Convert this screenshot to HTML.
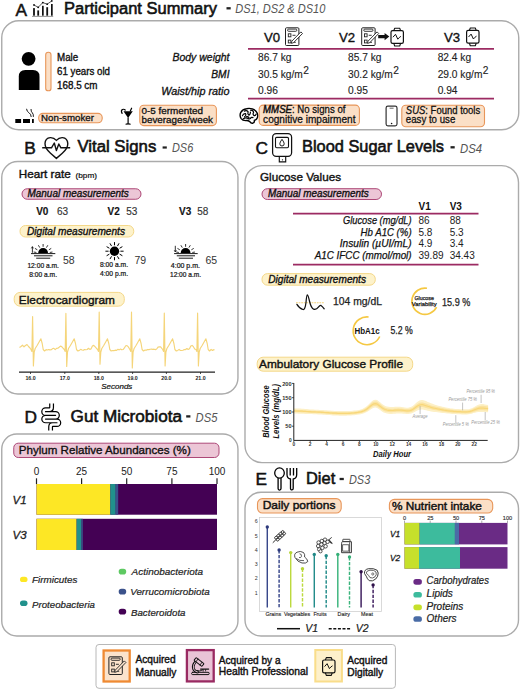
<!DOCTYPE html>
<html>
<head>
<meta charset="utf-8">
<style>
html,body{margin:0;padding:0;background:#fff;}
body{width:520px;height:689px;overflow:hidden;}
svg{display:block;font-family:"Liberation Sans",sans-serif;}
.b{font-weight:bold;}
.i{font-style:italic;}
.t{font-size:17.3px;fill:#111;stroke:#111;stroke-width:0.6px;}
.ds{font-style:italic;font-size:12px;fill:#555;}
.box{fill:none;stroke:#ababab;stroke-width:1.4;}
.pl{stroke:#9c2b62;stroke-width:1.6;}
.po{fill:#fbdfc6;stroke:#e8965a;stroke-width:1.1;}
.pp{fill:#ecc6d6;stroke:#ad4877;stroke-width:1;}
.py{fill:#fdf2cb;stroke:#f4d889;stroke-width:1;}
.m{stroke-width:0.3px;}
.ic{fill:none;stroke:#111;stroke-width:1.2;stroke-linecap:round;stroke-linejoin:round;}
</style>
</head>
<body>
<svg width="520" height="689" viewBox="0 0 520 689">
<!-- ============ SECTION A ============ -->
<text x="15.6" y="15.6" class="t" style="font-size:17.3px;stroke-width:0.5px">A</text>
<!-- bar chart icon -->
<g fill="#111">
<rect x="33.1" y="8.1" width="1.8" height="7.6"/>
<rect x="37.3" y="10.4" width="1.8" height="5.3"/>
<rect x="42" y="5.8" width="1.7" height="9.9"/>
<rect x="46.3" y="7.2" width="1.8" height="8.5"/>
<rect x="51" y="4" width="1.7" height="11.7"/>
<circle cx="34" cy="5" r="0.9"/><circle cx="38.2" cy="7.3" r="0.9"/><circle cx="42.8" cy="2.6" r="0.9"/><circle cx="47.2" cy="4.2" r="0.9"/><circle cx="51.8" cy="0.9" r="0.9"/>
</g>
<polyline points="34,5 38.2,7.3 42.8,2.6 47.2,4.2 51.8,0.9" fill="none" stroke="#111" stroke-width="0.7"/>
<line x1="32" y1="16.4" x2="53.2" y2="16.4" stroke="#777" stroke-width="0.8"/>
<text x="64" y="13.8" class="t" textLength="153" lengthAdjust="spacingAndGlyphs">Participant Summary</text>
<rect x="226.5" y="7.15" width="4.2" height="2.3" fill="#222"/>
<text x="235.3" y="13.2" class="ds" textLength="90" lengthAdjust="spacingAndGlyphs">DS1, DS2 &amp; DS10</text>

<rect x="1.75" y="20.75" width="517" height="109" rx="17" class="box"/>

<!-- person -->
<circle cx="28.6" cy="58.8" r="6.9" fill="#000"/>
<path d="M18.8,90 V76.5 Q18.8,70 25.3,70 H33 Q39.5,70 39.5,76.5 V90 Z" fill="#000"/>
<rect x="45.7" y="52.2" width="5.3" height="38.6" rx="2.65" class="po"/>
<g class="m" style="font-size:10px;stroke-width:0.35px" fill="#111" stroke="#111">
<text x="57" y="60.5" textLength="21.2" lengthAdjust="spacingAndGlyphs">Male</text>
<text x="57" y="75" textLength="53" lengthAdjust="spacingAndGlyphs">61 years old</text>
<text x="57" y="89.3" textLength="40.5" lengthAdjust="spacingAndGlyphs">168.5 cm</text>
</g>
<!-- labels -->
<g class="m i" style="font-size:10.4px" fill="#111" stroke="#111" text-anchor="end">
<text x="229.5" y="61" textLength="57" lengthAdjust="spacingAndGlyphs">Body weight</text>
<text x="229.5" y="77.9" textLength="18.2" lengthAdjust="spacingAndGlyphs">BMI</text>
<text x="229.5" y="94.7" textLength="68.3" lengthAdjust="spacingAndGlyphs">Waist/hip ratio</text>
</g>
<!-- table lines -->
<line x1="248" y1="48.9" x2="494" y2="48.9" class="pl"/>
<line x1="248" y1="98.6" x2="494" y2="98.6" class="pl"/>
<!-- headers -->
<g class="m" style="font-size:13.2px;stroke-width:0.35px" fill="#111" stroke="#111">
<text x="264" y="42">V0</text>
<text x="339" y="42">V2</text>
<text x="444" y="42">V3</text>
</g>
<!-- values -->
<g style="font-size:10.2px;stroke-width:0.12px" fill="#222" stroke="#222">
<text x="258" y="61">86.7 kg</text>
<text x="258" y="77.7">30.5 kg/m<tspan dx="0.4" dy="-4" style="font-size:10.2px">2</tspan></text>
<text x="258" y="94.4">0.96</text>
<text x="348" y="61">85.7 kg</text>
<text x="348" y="77.7">30.2 kg/m<tspan dx="0.4" dy="-4" style="font-size:10.2px">2</tspan></text>
<text x="348" y="94.4">0.95</text>
<text x="437.7" y="61">82.4 kg</text>
<text x="437.7" y="77.7">29.0 kg/m<tspan dx="0.4" dy="-4" style="font-size:10.2px">2</tspan></text>
<text x="437.7" y="94.4">0.94</text>
</g>
<!-- clipboard icon defs -->
<defs>
<g id="clip">
<rect x="0.5" y="0.5" width="13.4" height="17.7" rx="1" style="fill:var(--bg,#fff)" stroke="#222" stroke-width="1"/>
<rect x="2.6" y="1.8" width="9.2" height="2.2" rx="1" fill="none" stroke="#222" stroke-width="0.9"/>
<rect x="3.3" y="6.5" width="2.6" height="3" fill="none" stroke="#222" stroke-width="0.9"/>
<rect x="3.3" y="12.8" width="2.6" height="2.8" fill="none" stroke="#222" stroke-width="0.9"/>
<line x1="7.5" y1="8" x2="10.5" y2="8" stroke="#222" stroke-width="0.9"/>
<line x1="8" y1="15" x2="10.8" y2="15" stroke="#222" stroke-width="0.9"/>
<path d="M6.8,13.9 L15.9,4.6 L17.5,6.2 L8.4,15.5 L6.3,16 Z" style="fill:var(--bg,#fff)" stroke="#222" stroke-width="0.9" stroke-linejoin="round"/>
</g>
<g id="watch">
<path d="M3.4,3 L4.3,0.6 H9.3 L10.2,3 M3.4,15.8 L4.3,18.4 H9.3 L10.2,15.8" fill="none" stroke="#111" stroke-width="1.1" stroke-linejoin="round"/>
<rect x="0.6" y="3" width="12.4" height="12.8" rx="1.6" fill="none" stroke="#111" stroke-width="1.2"/>
<polyline points="2.8,9.3 5.1,6.7 7.4,11.6 8.8,10 10.2,9" fill="none" stroke="#111" stroke-width="1" stroke-linejoin="round" stroke-linecap="round"/>
</g>
</defs>
<use href="#clip" x="285" y="27.3"/>
<use href="#clip" x="361.2" y="27.3"/>
<path d="M378.2,34.9 H384.6 V32.9 L389.3,36.6 L384.6,40.3 V38.3 H378.2 Z" fill="#111"/>
<use href="#watch" x="390.4" y="27.6"/>
<use href="#watch" x="466" y="27.4"/>
<!-- bottom row icons -->
<!-- cigarette -->
<g fill="#000">
<rect x="15.3" y="119" width="5.8" height="4"/>
<rect x="23" y="119" width="7" height="4"/>
<rect x="32" y="119" width="1.8" height="4"/>
</g>
<path d="M26.6,109.2 Q26.8,111.5 28.8,112.6 Q31,113.8 31.2,116.6 M31,109.4 Q30.9,111.6 32.3,112.8 Q33.6,114 33.4,116.5" fill="none" stroke="#000" stroke-width="0.9" stroke-linecap="round"/>
<rect x="38.7" y="113.4" width="63.5" height="9.4" rx="4.2" class="po"/>
<text x="41.1" y="121.4" class="m" style="font-size:9.7px" fill="#111" stroke="#111" textLength="52.8" lengthAdjust="spacingAndGlyphs">Non-smoker</text>
<!-- cocktail -->
<path d="M123.5,111.2 H132.8 L128.1,117.9 Z" fill="#000"/>
<rect x="127.5" y="117.5" width="1.2" height="6" fill="#000"/>
<path d="M125.6,124.2 Q128.1,122.6 130.6,124.2 Z" fill="#000" stroke="#000" stroke-width="0.6"/>
<path d="M122.1,113.4 Q120.6,110.6 122.4,109.5 Q124,108.8 125.2,110" fill="none" stroke="#000" stroke-width="1.2" stroke-linecap="round"/>
<path d="M130.3,111 L131.6,108.2" stroke="#000" stroke-width="1.2" stroke-linecap="round"/>
<rect x="139.8" y="105.2" width="76.6" height="20.4" rx="4" class="po"/>
<g class="m" style="font-size:9.8px" fill="#111" stroke="#111">
<text x="141.5" y="113.8" textLength="61.6" lengthAdjust="spacingAndGlyphs">0-5 fermented</text>
<text x="141.5" y="122.8" textLength="71.5" lengthAdjust="spacingAndGlyphs">beverages/week</text>
</g>
<!-- brain -->
<path d="M241.2,118.6 Q239.2,115.5 240.8,112.4 Q242.6,109.2 246.5,108.7 Q249.5,108 252.3,108.9 Q256.2,110.2 257.4,113.6 Q258.4,116.8 256.6,119 Q255.6,120.3 254.3,120.2 Q254.8,122.6 252.8,123.2 Q251,123.6 249.8,121.6 Q248.2,120.4 245.6,120.6 Q242.6,120.6 241.2,118.6 Z" fill="#fff" stroke="#000" stroke-width="1.4" stroke-linejoin="round"/>
<path d="M242.4,115.8 Q243.2,113.2 245.6,113.6 Q246.4,115.6 244.6,116.8 M244.3,111.1 Q246.8,110 248.2,111.9 Q247.2,113.8 249,115.2 Q250.6,114 250.4,112 M250.5,110.2 Q253.3,110 253.6,112.6 Q252.2,114.2 254.2,115.8 Q255.8,115.6 256.2,114 M243.4,118.8 Q245.2,117.2 247.3,118.2 Q248.4,119.4 250.4,118.4 Q251.2,116.8 253,117.6 M246.6,116.6 Q248.2,116.4 249,117.6" fill="none" stroke="#000" stroke-width="1.15" stroke-linecap="round" stroke-linejoin="round"/>
<rect x="259.2" y="105.1" width="100.2" height="20.3" rx="4" class="po"/>
<g class="m" style="font-size:10.4px;stroke-width:0.28px" fill="#111" stroke="#111">
<text x="263.1" y="113.4" textLength="82.4" lengthAdjust="spacingAndGlyphs"><tspan class="i" style="stroke-width:0.45px">MMSE</tspan>: No signs of</text>
<text x="263.1" y="123.1" textLength="92.4" lengthAdjust="spacingAndGlyphs">cognitive impairment</text>
</g>
<!-- phone -->
<rect x="386.1" y="106.1" width="10.9" height="19.8" rx="1.8" fill="none" stroke="#333" stroke-width="1.2"/>
<line x1="389.6" y1="108.2" x2="393.6" y2="108.2" stroke="#555" stroke-width="0.9"/>
<circle cx="391.6" cy="123.5" r="0.8" fill="#111"/>
<rect x="401.8" y="105.2" width="82.7" height="21.6" rx="4" class="po"/>
<g class="m" style="font-size:10.4px;stroke-width:0.28px" fill="#111" stroke="#111">
<text x="405.8" y="113.8" textLength="74.4" lengthAdjust="spacingAndGlyphs"><tspan class="i">SUS</tspan>: Found tools</text>
<text x="405.8" y="123.4" textLength="49.5" lengthAdjust="spacingAndGlyphs">easy to use</text>
</g>

<!-- ============ SECTION B ============ -->
<text x="24.3" y="153.7" class="t" style="font-size:17.3px;stroke-width:0.5px">B</text>
<path d="M56.4,140.4 Q53.8,137.4 50.3,137.6 Q45.2,138 45,143.6 Q45,148.5 50.5,153.3 L56.4,158.4 L62.3,153.3 Q67.9,148.5 67.8,143.6 Q67.5,138 62.5,137.6 Q59,137.4 56.4,140.4 Z" fill="none" stroke="#111" stroke-width="1.4" stroke-linejoin="round"/>
<polyline points="42.2,147.8 51.5,147.8 54.3,143 56.4,150.6 58.8,144 60.9,147.8 70.2,147.8" fill="none" stroke="#111" stroke-width="1.4" stroke-linejoin="round"/>
<text x="77.4" y="152.4" class="t" textLength="78.9" lengthAdjust="spacingAndGlyphs">Vital Signs</text>
<rect x="162.6" y="146.4" width="4.2" height="2.2" fill="#222"/>
<text x="172" y="152.3" class="ds" textLength="21.2" lengthAdjust="spacingAndGlyphs">DS6</text>

<rect x="1.75" y="161.5" width="236.2" height="232.5" rx="16" class="box"/>

<text x="18.75" y="177.5" class="m" style="font-size:11.6px;stroke-width:0.4px" fill="#111" stroke="#111" textLength="52" lengthAdjust="spacingAndGlyphs">Heart rate</text>
<text x="75.5" y="177.5" style="font-size:7.8px;stroke-width:0.2px" stroke="#111" fill="#111" textLength="21.5" lengthAdjust="spacingAndGlyphs">(bpm)</text>
<rect x="22" y="188.75" width="119" height="10.5" rx="5.25" class="pp"/>
<text x="27.5" y="196.8" class="i m" style="font-size:10px;stroke-width:0.35px" fill="#111" stroke="#111" textLength="101.25" lengthAdjust="spacingAndGlyphs">Manual measurements</text>
<g style="font-size:10px;stroke-width:0.15px" stroke="#333">
<text x="36.2" y="215" class="b" fill="#111">V0</text><text x="57" y="215" fill="#333">63</text>
<text x="107.5" y="215" class="b" fill="#111">V2</text><text x="126.2" y="215" fill="#333">53</text>
<text x="179" y="215.3" class="b" fill="#111">V3</text><text x="197.2" y="215.3" fill="#333">58</text>
</g>
<rect x="20" y="225.5" width="113.75" height="11.5" rx="5.5" class="py"/>
<text x="27" y="234.5" class="i m" style="font-size:10px;stroke-width:0.35px" fill="#111" stroke="#111" textLength="98" lengthAdjust="spacingAndGlyphs">Digital measurements</text>
<!-- sunrise -->
<g>
<path d="M38.2,253 A4.9,4.9 0 0 1 48,253 Z" fill="#000"/>
<line x1="31" y1="253.6" x2="55.3" y2="253.6" stroke="#000" stroke-width="0.9"/>
<line x1="34" y1="255.8" x2="52.5" y2="255.8" stroke="#000" stroke-width="0.9"/>
<line x1="36.2" y1="258.2" x2="50.2" y2="258.2" stroke="#000" stroke-width="0.9"/>
<g stroke="#000" stroke-width="0.8" stroke-linecap="round">
<line x1="43.1" y1="246.4" x2="43.1" y2="244.4"/>
<line x1="46.6" y1="247.3" x2="47.6" y2="245.6"/>
<line x1="49.2" y1="249.6" x2="50.9" y2="248.6"/>
<line x1="50.2" y1="252.4" x2="52.1" y2="252.1"/>
<line x1="39.6" y1="247.3" x2="38.6" y2="245.6"/>
<line x1="37" y1="249.6" x2="35.3" y2="248.6"/>
<line x1="36" y1="252.4" x2="34.1" y2="252.1"/>
<line x1="32.4" y1="252.4" x2="32.4" y2="247.2"/>
</g>
<path d="M31.3,248.4 L32.4,246.6 L33.5,248.4" fill="none" stroke="#000" stroke-width="0.7"/>
</g>
<!-- sun -->
<g>
<circle cx="114.5" cy="251.2" r="4.7" fill="#000"/>
<g stroke="#000" stroke-width="1" stroke-linecap="round">
<line x1="114.5" y1="244.9" x2="114.5" y2="242.5"/>
<line x1="114.5" y1="257.5" x2="114.5" y2="259.9"/>
<line x1="108.2" y1="251.2" x2="105.8" y2="251.2"/>
<line x1="120.8" y1="251.2" x2="123.2" y2="251.2"/>
<line x1="117.65" y1="245.75" x2="118.85" y2="243.66"/>
<line x1="111.35" y1="245.75" x2="110.15" y2="243.66"/>
<line x1="117.65" y1="256.65" x2="118.85" y2="258.74"/>
<line x1="111.35" y1="256.65" x2="110.15" y2="258.74"/>
<line x1="119.96" y1="248.05" x2="122.04" y2="246.85"/>
<line x1="109.04" y1="248.05" x2="106.96" y2="246.85"/>
<line x1="119.96" y1="254.35" x2="122.04" y2="255.55"/>
<line x1="109.04" y1="254.35" x2="106.96" y2="255.55"/>
</g>
</g>
<!-- sunset -->
<g>
<path d="M180.7,253 A4.9,4.9 0 0 1 190.5,253 Z" fill="#000"/>
<line x1="174.1" y1="253.6" x2="197.7" y2="253.6" stroke="#000" stroke-width="0.9"/>
<line x1="176.8" y1="255.8" x2="195" y2="255.8" stroke="#000" stroke-width="0.9"/>
<line x1="178.8" y1="258.2" x2="193" y2="258.2" stroke="#000" stroke-width="0.9"/>
<g stroke="#000" stroke-width="0.8" stroke-linecap="round">
<line x1="185.6" y1="246.4" x2="185.6" y2="244.4"/>
<line x1="189.1" y1="247.3" x2="190.1" y2="245.6"/>
<line x1="191.7" y1="249.6" x2="193.4" y2="248.6"/>
<line x1="192.7" y1="252.4" x2="194.6" y2="252.1"/>
<line x1="182.1" y1="247.3" x2="181.1" y2="245.6"/>
<line x1="179.5" y1="249.6" x2="177.8" y2="248.6"/>
<line x1="178.5" y1="252.4" x2="176.6" y2="252.1"/>
<line x1="175.3" y1="246.2" x2="175.3" y2="251.4"/>
</g>
<path d="M174.2,250.2 L175.3,252 L176.4,250.2" fill="none" stroke="#000" stroke-width="0.7"/>
</g>
<g class="m" style="font-size:6.8px;stroke-width:0.2px" fill="#111" stroke="#111">
<text x="27.4" y="267.9" textLength="31.6" lengthAdjust="spacingAndGlyphs">12:00 a.m.</text>
<text x="29.2" y="277" textLength="27.8" lengthAdjust="spacingAndGlyphs">8:00 a.m.</text>
<text x="100" y="267.3" textLength="28" lengthAdjust="spacingAndGlyphs">8:00 a.m.</text>
<text x="100" y="276.4" textLength="28" lengthAdjust="spacingAndGlyphs">4:00 p.m.</text>
<text x="170.8" y="267.6" textLength="29.2" lengthAdjust="spacingAndGlyphs">4:00 p.m.</text>
<text x="170" y="277" textLength="31" lengthAdjust="spacingAndGlyphs">12:00 a.m.</text>
</g>
<g style="font-size:10.5px" fill="#333">
<text x="63" y="263.8">58</text>
<text x="134.4" y="263.6">79</text>
<text x="205.5" y="263.8">65</text>
</g>
<rect x="14.2" y="292.4" width="110.1" height="13.8" rx="6" class="py"/>
<text x="18.8" y="303.5" class="m" style="font-size:11.8px;stroke-width:0.4px" fill="#111" stroke="#111" textLength="96.2" lengthAdjust="spacingAndGlyphs">Electrocardiogram</text>
<!-- ECG -->
<polyline id="ecg" points="19.5,347.5 21,346.5 22.5,345.2 24,346.8 25.5,345.5 27,344.5 28.5,346.5 30,348 31.0,349.5 31.9,351.5 32.6,316.5 33.4,366 34.2,352 35.2,348.5 37.1,345.5 39.1,342 40.9,338.8 42.2,343.5 43.2,349.5 44.6,351 46.1,349.65 47.4,350.04 48.7,349.57 50.0,349.84 51.3,349.72 52.6,348.56 53.9,348.31 55.2,349.64 56.5,348.44 57.8,348.24 59.1,347.25 60.4,346.15 61.7,346.65 63.0,348.05 64.3,349.5 65.2,351.5 65.9,313.4 66.7,366.5 67.5,352 68.5,348.5 70.4,345.5 72.4,342 74.2,338.8 75.5,343.5 76.5,349.5 77.9,351 79.4,350.37 80.7,349.34 82.0,350.05 83.3,350.31 84.6,349.54 85.9,349.77 87.2,349.49 88.5,348.24 89.8,349.34 91.1,348.88 92.4,346.0 93.7,345.36 95.0,346.71 96.3,348.04 97.6,349.5 98.5,351.5 99.2,312 100.0,364.2 100.8,352 101.8,348.5 103.7,345.5 105.7,342 107.5,338.8 108.8,343.5 109.8,349.5 111.2,351 112.7,350.51 114.0,350.65 115.3,350.19 116.6,350.41 117.9,349.31 119.2,349.88 120.5,349.08 121.8,349.81 123.1,349.55 124.4,347.99 125.7,345.7 127.0,345.69 128.3,346.89 129.9,349.5 130.8,351.5 131.5,312 132.3,368 133.1,352 134.1,348.5 136.0,345.5 138.0,342 139.8,338.8 141.1,343.5 142.1,349.5 143.5,351 145.0,350.01 146.3,350.19 147.6,349.45 148.9,349.67 150.2,349.29 151.5,349.07 152.8,349.34 154.1,349.18 155.4,349.6 156.7,349.04 158.0,347.13 159.3,346.85 160.6,346.93 162.7,349.5 163.6,351.5 164.3,313 165.1,366 165.9,352 166.9,348.5 168.8,345.5 170.8,342 172.6,338.8 173.9,343.5 174.9,349.5 176.3,351 177.8,350.43 179.1,349.36 180.4,350.46 181.7,350.49 183.0,350.22 184.3,349.46 185.6,349.57 186.9,348.51 188.2,349.47 189.5,348.85 190.8,345.97 192.1,345.42 193.4,346.69 194.7,348.97 196.0,349.5 196.9,351.5 197.6,313 198.4,366 199.2,352 200.2,348.5 202.1,345.5 204.1,342 205.9,338.8 207.2,343.5 208.2,349.5 209.6,351 211.1,349.38 212.4,350.51 213.7,349.65 214.5,350" fill="none" stroke="#f5d57a" stroke-width="1.15" stroke-linejoin="round"/>
<line x1="19" y1="372.2" x2="215" y2="372.2" stroke="#222" stroke-width="1.2"/>
<g stroke="#222" stroke-width="0.8">
<line x1="30.5" y1="372" x2="30.5" y2="374"/><line x1="64.8" y1="372" x2="64.8" y2="374"/><line x1="98.8" y1="372" x2="98.8" y2="374"/><line x1="132.6" y1="372" x2="132.6" y2="374"/><line x1="166.4" y1="372" x2="166.4" y2="374"/><line x1="200.5" y1="372" x2="200.5" y2="374"/>
</g>
<g class="b" style="font-size:4.8px" fill="#222" text-anchor="middle">
<text x="30.5" y="379.5" textLength="10.2" lengthAdjust="spacingAndGlyphs">16.0</text><text x="64.8" y="379.5" textLength="10.2" lengthAdjust="spacingAndGlyphs">17.0</text><text x="98.8" y="379.5" textLength="10.2" lengthAdjust="spacingAndGlyphs">18.0</text><text x="132.6" y="379.5" textLength="10.2" lengthAdjust="spacingAndGlyphs">19.0</text><text x="166.4" y="379.5" textLength="10.2" lengthAdjust="spacingAndGlyphs">20.0</text><text x="200.5" y="379.5" textLength="10.2" lengthAdjust="spacingAndGlyphs">21.0</text>
</g>
<text x="101.3" y="388.5" class="i m" style="font-size:7.8px;stroke-width:0.2px" fill="#111" stroke="#111" textLength="31" lengthAdjust="spacingAndGlyphs">Seconds</text>

<!-- ============ SECTION C ============ -->
<text x="255.6" y="153.5" class="t" style="font-size:17.3px;stroke-width:0.5px">C</text>
<!-- glucometer -->
<rect x="272.6" y="133.7" width="19" height="22.6" rx="3.6" fill="none" stroke="#111" stroke-width="1.25"/>
<rect x="275.5" y="137.4" width="13" height="10.4" rx="1.2" fill="none" stroke="#111" stroke-width="1.1"/>
<path d="M282,139.3 Q279.8,142.3 279.8,143.8 A2.2,2.2 0 0 0 284.2,143.8 Q284.2,142.3 282,139.3 Z" fill="none" stroke="#111" stroke-width="0.95"/>
<path d="M279.3,156.3 V161.9 H285.7 V156.3" fill="none" stroke="#111" stroke-width="1.15"/>
<circle cx="282.5" cy="159.8" r="0.65" fill="#111"/>
<text x="302" y="152.4" class="t" textLength="142" lengthAdjust="spacingAndGlyphs">Blood Sugar Levels</text>
<rect x="450.5" y="146.15" width="4.2" height="2.3" fill="#222"/>
<text x="460" y="152.5" class="ds" textLength="22" lengthAdjust="spacingAndGlyphs">DS4</text>

<rect x="245" y="165.6" width="273.5" height="297" rx="17" class="box"/>

<text x="260" y="180.6" class="m" style="font-size:11.6px;stroke-width:0.4px" fill="#111" stroke="#111" textLength="81" lengthAdjust="spacingAndGlyphs">Glucose Values</text>
<rect x="262" y="188.7" width="119.5" height="10.8" rx="5.4" class="pp"/>
<text x="268" y="196.7" class="i m" style="font-size:10px;stroke-width:0.35px" fill="#111" stroke="#111" textLength="100.6" lengthAdjust="spacingAndGlyphs">Manual measurements</text>
<g class="b" style="font-size:10px" fill="#111">
<text x="418.5" y="210.3">V1</text>
<text x="449.7" y="210.3">V3</text>
</g>
<line x1="293" y1="213.6" x2="478.5" y2="213.6" class="pl"/>
<line x1="293" y1="264.6" x2="478.5" y2="264.6" class="pl"/>
<g class="i m" style="font-size:10.2px;stroke-width:0.25px" fill="#111" stroke="#111" text-anchor="end">
<text x="411.6" y="223.8" textLength="68.6" lengthAdjust="spacingAndGlyphs">Glucose (mg/dL)</text>
<text x="411.6" y="235.6" textLength="51" lengthAdjust="spacingAndGlyphs">Hb A1C (%)</text>
<text x="411.6" y="247.2" textLength="71.8" lengthAdjust="spacingAndGlyphs">Insulin (µUI/mL)</text>
<text x="411.6" y="259.3" textLength="96.9" lengthAdjust="spacingAndGlyphs">A1C IFCC (mmol/mol)</text>
</g>
<g style="font-size:10px" fill="#222">
<text x="418.5" y="223.8">86</text><text x="449.7" y="223.8">88</text>
<text x="418.5" y="235.6">5.8</text><text x="449.7" y="235.6">5.3</text>
<text x="418.5" y="247.2">4.9</text><text x="449.7" y="247.2">3.4</text>
<text x="418.5" y="259.3">39.89</text><text x="449.7" y="259.3">34.43</text>
</g>
<rect x="262" y="273.6" width="113.3" height="11.6" rx="5.5" class="py"/>
<text x="268.3" y="282.8" class="i m" style="font-size:10px;stroke-width:0.35px" fill="#111" stroke="#111" textLength="97.7" lengthAdjust="spacingAndGlyphs">Digital measurements</text>
<!-- glucose wave icon -->
<line x1="296" y1="302.7" x2="324.2" y2="302.7" stroke="#f3d27a" stroke-width="1.1" stroke-dasharray="1.8,0.8"/>
<path d="M296.9,304.4 Q299.5,308.6 303,309.5 Q305.1,309.8 306,302.5 Q306.6,295 307.3,294.9 Q308.1,295 309.6,301.5 Q311.1,307.9 313.6,309.2 Q316.4,310 318.4,307.2 Q319.9,305 321,305.4 Q322.5,306.4 324.2,308.8" fill="none" stroke="#111" stroke-width="1.25" stroke-linejoin="round" stroke-linecap="round"/>
<text x="333" y="305.4" style="font-size:10.2px;stroke-width:0.25px" fill="#222" stroke="#222" textLength="49" lengthAdjust="spacingAndGlyphs">104 mg/dL</text>
<!-- GV circle -->
<path d="M427,288.3 A13.1,13.1 0 1 0 436.6,307.2" fill="none" stroke="#f5c842" stroke-width="1.6"/>
<g class="m" style="font-size:6.1px;stroke-width:0.25px" fill="#111" stroke="#111" text-anchor="middle">
<text x="424.2" y="300.1" textLength="19.5" lengthAdjust="spacingAndGlyphs">Glucose</text>
<text x="424.2" y="306.4" textLength="24.9" lengthAdjust="spacingAndGlyphs">Variability</text>
</g>
<text x="442" y="305.9" style="font-size:10.2px;stroke-width:0.25px" fill="#222" stroke="#222" textLength="28.3" lengthAdjust="spacingAndGlyphs">15.9 %</text>
<!-- HbA1c circle -->
<path d="M368.6,317 A13.9,13.9 0 1 0 379.7,336.5" fill="none" stroke="#f5c842" stroke-width="1.6"/>
<text x="367" y="333.9" class="b" style="font-size:8.2px" fill="#111" text-anchor="middle" textLength="25.2" lengthAdjust="spacingAndGlyphs">HbA1c</text>
<text x="390.5" y="334.4" style="font-size:10.2px;stroke-width:0.25px" fill="#222" stroke="#222" textLength="22.3" lengthAdjust="spacingAndGlyphs">5.2 %</text>
<!-- AGP -->
<rect x="257.2" y="357.2" width="155.5" height="14" rx="6" class="py"/>
<text x="259" y="368.1" class="m" style="font-size:11.8px;stroke-width:0.4px" fill="#111" stroke="#111" textLength="144" lengthAdjust="spacingAndGlyphs">Ambulatory Glucose Profile</text>
<g id="agp">
<path d="M293.8,408.4 L295.4,408.4 L297.1,408.5 L298.7,408.5 L300.3,408.6 L302.0,408.7 L303.6,408.8 L305.2,409.0 L306.9,409.1 L308.5,409.3 L310.1,409.4 L311.8,409.5 L313.4,409.6 L315.0,409.7 L316.7,409.7 L318.3,409.8 L319.9,409.9 L321.6,410.0 L323.2,410.1 L324.8,410.2 L326.5,410.3 L328.1,410.5 L329.7,410.6 L331.4,410.7 L333.0,410.8 L334.6,410.9 L336.3,411.0 L337.9,411.0 L339.5,411.1 L341.2,411.1 L342.8,411.1 L344.4,411.1 L346.1,411.1 L347.7,411.0 L349.3,411.0 L351.0,410.9 L352.6,410.7 L354.2,410.6 L355.9,410.4 L357.5,410.2 L359.1,409.9 L360.8,409.5 L362.4,408.9 L364.0,408.1 L365.7,407.1 L367.3,405.8 L368.9,404.2 L370.6,402.5 L372.2,401.0 L373.8,400.1 L375.5,399.7 L377.1,400.1 L378.7,401.2 L380.4,402.6 L382.0,403.9 L383.6,405.1 L385.3,406.0 L386.9,406.5 L388.5,406.8 L390.2,407.0 L391.8,407.0 L393.4,406.9 L395.1,406.8 L396.7,406.7 L398.3,406.7 L400.0,406.7 L401.6,406.9 L403.2,407.2 L404.9,407.4 L406.5,407.7 L408.1,407.7 L409.8,407.3 L411.4,406.7 L413.0,405.8 L414.7,404.3 L416.3,402.7 L417.9,401.4 L419.5,400.4 L421.2,399.9 L422.8,400.0 L424.4,400.5 L426.1,401.1 L427.7,401.9 L429.3,402.6 L431.0,403.2 L432.6,403.8 L434.2,404.4 L435.9,404.9 L437.5,405.4 L439.1,405.9 L440.8,406.3 L442.4,406.7 L444.0,407.1 L445.7,407.5 L447.3,407.8 L448.9,408.1 L450.6,408.4 L452.2,408.6 L453.8,408.8 L455.5,408.9 L457.1,409.0 L458.7,409.1 L460.4,409.2 L462.0,409.2 L463.6,409.3 L465.3,409.3 L466.9,409.3 L468.5,409.2 L470.2,408.8 L471.8,408.2 L473.4,407.4 L475.1,406.5 L476.7,405.6 L478.3,404.8 L480.0,404.3 L481.6,404.1 L483.2,404.1 L484.9,404.4 L486.5,404.7 L488.1,405.1 L488.1,412.3 L486.5,412.2 L484.9,412.1 L483.2,412.0 L481.6,411.9 L480.0,411.9 L478.3,412.1 L476.7,412.3 L475.1,412.7 L473.4,413.1 L471.8,413.7 L470.2,414.1 L468.5,414.3 L466.9,414.5 L465.3,414.5 L463.6,414.4 L462.0,414.4 L460.4,414.3 L458.7,414.2 L457.1,414.2 L455.5,414.1 L453.8,414.0 L452.2,413.9 L450.6,413.7 L448.9,413.6 L447.3,413.4 L445.7,413.2 L444.0,413.1 L442.4,412.9 L440.8,412.7 L439.1,412.5 L437.5,412.3 L435.9,412.1 L434.2,411.9 L432.6,411.7 L431.0,411.4 L429.3,411.1 L427.7,410.7 L426.1,410.3 L424.4,409.9 L422.8,409.5 L421.2,409.4 L419.5,409.7 L417.9,410.2 L416.3,411.0 L414.7,411.9 L413.0,412.8 L411.4,413.4 L409.8,413.8 L408.1,414.0 L406.5,414.0 L404.9,413.8 L403.2,413.7 L401.6,413.5 L400.0,413.4 L398.3,413.5 L396.7,413.5 L395.1,413.7 L393.4,413.8 L391.8,413.9 L390.2,413.9 L388.5,413.7 L386.9,413.5 L385.3,413.1 L383.6,412.4 L382.0,411.4 L380.4,410.3 L378.7,409.1 L377.1,408.0 L375.5,407.6 L373.8,407.7 L372.2,408.4 L370.6,409.4 L368.9,410.7 L367.3,411.7 L365.7,412.6 L364.0,413.3 L362.4,413.8 L360.8,414.2 L359.1,414.5 L357.5,414.8 L355.9,415.0 L354.2,415.2 L352.6,415.3 L351.0,415.4 L349.3,415.5 L347.7,415.6 L346.1,415.7 L344.4,415.7 L342.8,415.7 L341.2,415.7 L339.5,415.7 L337.9,415.6 L336.3,415.5 L334.6,415.5 L333.0,415.4 L331.4,415.3 L329.7,415.1 L328.1,415.0 L326.5,414.9 L324.8,414.8 L323.2,414.7 L321.6,414.6 L319.9,414.5 L318.3,414.4 L316.7,414.3 L315.0,414.2 L313.4,414.2 L311.8,414.1 L310.1,414.1 L308.5,414.0 L306.9,414.0 L305.2,413.9 L303.6,413.8 L302.0,413.8 L300.3,413.7 L298.7,413.7 L297.1,413.6 L295.4,413.6 L293.8,413.5 Z" fill="#fdf0c6"/>
<path d="M293.8,409.8 L295.4,409.8 L297.1,409.9 L298.7,409.9 L300.3,410.0 L302.0,410.1 L303.6,410.2 L305.2,410.3 L306.9,410.4 L308.5,410.5 L310.1,410.6 L311.8,410.7 L313.4,410.7 L315.0,410.8 L316.7,410.9 L318.3,411.0 L319.9,411.0 L321.6,411.1 L323.2,411.3 L324.8,411.4 L326.5,411.5 L328.1,411.6 L329.7,411.7 L331.4,411.8 L333.0,411.9 L334.6,412.0 L336.3,412.1 L337.9,412.2 L339.5,412.2 L341.2,412.3 L342.8,412.3 L344.4,412.3 L346.1,412.2 L347.7,412.2 L349.3,412.1 L351.0,412.0 L352.6,411.9 L354.2,411.7 L355.9,411.6 L357.5,411.3 L359.1,411.0 L360.8,410.6 L362.4,410.1 L364.0,409.3 L365.7,408.3 L367.3,407.1 L368.9,405.6 L370.6,404.0 L372.2,402.6 L373.8,401.7 L375.5,401.4 L377.1,401.8 L378.7,403.0 L380.4,404.3 L382.0,405.6 L383.6,406.8 L385.3,407.7 L386.9,408.2 L388.5,408.5 L390.2,408.7 L391.8,408.7 L393.4,408.7 L395.1,408.5 L396.7,408.4 L398.3,408.3 L400.0,408.4 L401.6,408.5 L403.2,408.7 L404.9,408.9 L406.5,409.1 L408.1,409.1 L409.8,408.8 L411.4,408.3 L413.0,407.4 L414.7,406.1 L416.3,404.8 L417.9,403.7 L419.5,402.8 L421.2,402.4 L422.8,402.5 L424.4,403.0 L426.1,403.6 L427.7,404.2 L429.3,404.8 L431.0,405.4 L432.6,405.9 L434.2,406.3 L435.9,406.8 L437.5,407.1 L439.1,407.5 L440.8,407.8 L442.4,408.1 L444.0,408.4 L445.7,408.7 L447.3,408.9 L448.9,409.2 L450.6,409.5 L452.2,409.7 L453.8,409.9 L455.5,410.1 L457.1,410.2 L458.7,410.2 L460.4,410.3 L462.0,410.4 L463.6,410.4 L465.3,410.5 L466.9,410.5 L468.5,410.3 L470.2,410.0 L471.8,409.4 L473.4,408.6 L475.1,407.8 L476.7,407.0 L478.3,406.4 L480.0,405.9 L481.6,405.8 L483.2,405.8 L484.9,406.0 L486.5,406.3 L488.1,406.6 L488.1,410.8 L486.5,410.6 L484.9,410.5 L483.2,410.3 L481.6,410.3 L480.0,410.3 L478.3,410.5 L476.7,410.9 L475.1,411.4 L473.4,411.9 L471.8,412.5 L470.2,412.9 L468.5,413.2 L466.9,413.3 L465.3,413.4 L463.6,413.3 L462.0,413.2 L460.4,413.2 L458.7,413.1 L457.1,413.0 L455.5,413.0 L453.8,412.9 L452.2,412.7 L450.6,412.6 L448.9,412.4 L447.3,412.2 L445.7,412.0 L444.0,411.8 L442.4,411.5 L440.8,411.2 L439.1,410.9 L437.5,410.6 L435.9,410.3 L434.2,410.0 L432.6,409.7 L431.0,409.3 L429.3,408.8 L427.7,408.4 L426.1,407.9 L424.4,407.4 L422.8,407.0 L421.2,406.9 L419.5,407.3 L417.9,408.0 L416.3,408.9 L414.7,410.1 L413.0,411.2 L411.4,411.9 L409.8,412.3 L408.1,412.6 L406.5,412.5 L404.9,412.3 L403.2,412.1 L401.6,411.9 L400.0,411.8 L398.3,411.8 L396.7,411.8 L395.1,412.0 L393.4,412.1 L391.8,412.2 L390.2,412.2 L388.5,412.0 L386.9,411.8 L385.3,411.4 L383.6,410.7 L382.0,409.7 L380.4,408.6 L378.7,407.4 L377.1,406.3 L375.5,405.9 L373.8,406.1 L372.2,406.8 L370.6,408.0 L368.9,409.3 L367.3,410.4 L365.7,411.4 L364.0,412.1 L362.4,412.7 L360.8,413.1 L359.1,413.4 L357.5,413.7 L355.9,413.9 L354.2,414.0 L352.6,414.2 L351.0,414.3 L349.3,414.4 L347.7,414.5 L346.1,414.5 L344.4,414.6 L342.8,414.6 L341.2,414.6 L339.5,414.5 L337.9,414.5 L336.3,414.4 L334.6,414.3 L333.0,414.2 L331.4,414.1 L329.7,414.0 L328.1,413.9 L326.5,413.8 L324.8,413.7 L323.2,413.5 L321.6,413.4 L319.9,413.3 L318.3,413.2 L316.7,413.2 L315.0,413.1 L313.4,413.0 L311.8,413.0 L310.1,412.9 L308.5,412.8 L306.9,412.7 L305.2,412.6 L303.6,412.5 L302.0,412.4 L300.3,412.3 L298.7,412.2 L297.1,412.2 L295.4,412.1 L293.8,412.1 Z" fill="#fbe3a0"/>
<path d="M293.8,411.0 L295.4,411.0 L297.1,411.0 L298.7,411.1 L300.3,411.2 L302.0,411.2 L303.6,411.3 L305.2,411.4 L306.9,411.5 L308.5,411.7 L310.1,411.7 L311.8,411.8 L313.4,411.9 L315.0,411.9 L316.7,412.0 L318.3,412.1 L319.9,412.2 L321.6,412.3 L323.2,412.4 L324.8,412.5 L326.5,412.6 L328.1,412.7 L329.7,412.9 L331.4,413.0 L333.0,413.1 L334.6,413.2 L336.3,413.2 L337.9,413.3 L339.5,413.4 L341.2,413.4 L342.8,413.4 L344.4,413.4 L346.1,413.4 L347.7,413.3 L349.3,413.3 L351.0,413.2 L352.6,413.0 L354.2,412.9 L355.9,412.7 L357.5,412.5 L359.1,412.2 L360.8,411.9 L362.4,411.4 L364.0,410.7 L365.7,409.8 L367.3,408.7 L368.9,407.4 L370.6,406.0 L372.2,404.7 L373.8,403.9 L375.5,403.7 L377.1,404.1 L378.7,405.2 L380.4,406.5 L382.0,407.7 L383.6,408.7 L385.3,409.5 L386.9,410.0 L388.5,410.3 L390.2,410.4 L391.8,410.5 L393.4,410.4 L395.1,410.2 L396.7,410.1 L398.3,410.1 L400.0,410.1 L401.6,410.2 L403.2,410.4 L404.9,410.6 L406.5,410.8 L408.1,410.8 L409.8,410.6 L411.4,410.1 L413.0,409.3 L414.7,408.1 L416.3,406.8 L417.9,405.8 L419.5,405.1 L421.2,404.7 L422.8,404.7 L424.4,405.2 L426.1,405.7 L427.7,406.3 L429.3,406.8 L431.0,407.3 L432.6,407.8 L434.2,408.2 L435.9,408.5 L437.5,408.9 L439.1,409.2 L440.8,409.5 L442.4,409.8 L444.0,410.1 L445.7,410.3 L447.3,410.6 L448.9,410.8 L450.6,411.1 L452.2,411.2 L453.8,411.4 L455.5,411.5 L457.1,411.6 L458.7,411.7 L460.4,411.7 L462.0,411.8 L463.6,411.9 L465.3,411.9 L466.9,411.9 L468.5,411.7 L470.2,411.4 L471.8,410.9 L473.4,410.3 L475.1,409.6 L476.7,409.0 L478.3,408.4 L480.0,408.1 L481.6,408.0 L483.2,408.1 L484.9,408.3 L486.5,408.5 L488.1,408.7" fill="none" stroke="#f8d779" stroke-width="1.2"/>

</g>
<g stroke="#9a9a9a" stroke-width="0.6">
<line x1="420.1" y1="406.2" x2="420.1" y2="414.1"/>
<line x1="462.6" y1="402.6" x2="462.6" y2="410.3"/>
<line x1="481.1" y1="394.8" x2="481.1" y2="403"/>
<line x1="455.8" y1="415.2" x2="455.8" y2="422.9"/>
<line x1="485.2" y1="412" x2="485.2" y2="420.1"/>
</g>
<g class="i" style="font-size:4.6px" fill="#999">
<text x="412.5" y="417.7" textLength="15" lengthAdjust="spacingAndGlyphs">Average</text>
<text x="448.4" y="400.5" textLength="28.6" lengthAdjust="spacingAndGlyphs">Percentile 75 %</text>
<text x="466.4" y="393.2" textLength="28.6" lengthAdjust="spacingAndGlyphs">Percentile 95 %</text>
<text x="442.7" y="425.8" textLength="26.1" lengthAdjust="spacingAndGlyphs">Percentile 5 %</text>
<text x="471.3" y="423.9" textLength="28.6" lengthAdjust="spacingAndGlyphs">Percentile 25 %</text>
</g>
<line x1="293.8" y1="383" x2="293.8" y2="440.4" stroke="#222" stroke-width="1"/>
<line x1="293.8" y1="440.4" x2="487.7" y2="440.4" stroke="#222" stroke-width="1"/>
<g stroke="#222" stroke-width="0.8">
<line x1="293.8" y1="440.4" x2="293.8" y2="441.9"/><line x1="310.2" y1="440.4" x2="310.2" y2="441.9"/><line x1="326.6" y1="440.4" x2="326.6" y2="441.9"/><line x1="343.0" y1="440.4" x2="343.0" y2="441.9"/><line x1="359.4" y1="440.4" x2="359.4" y2="441.9"/><line x1="375.8" y1="440.4" x2="375.8" y2="441.9"/><line x1="392.2" y1="440.4" x2="392.2" y2="441.9"/><line x1="408.6" y1="440.4" x2="408.6" y2="441.9"/><line x1="425.0" y1="440.4" x2="425.0" y2="441.9"/><line x1="441.4" y1="440.4" x2="441.4" y2="441.9"/><line x1="457.8" y1="440.4" x2="457.8" y2="441.9"/><line x1="474.2" y1="440.4" x2="474.2" y2="441.9"/><line x1="292" y1="383.4" x2="293.8" y2="383.4"/><line x1="292" y1="397.7" x2="293.8" y2="397.7"/><line x1="292" y1="412" x2="293.8" y2="412"/><line x1="292" y1="426.2" x2="293.8" y2="426.2"/>
</g>
<g class="b" style="font-size:4.8px" fill="#333" text-anchor="end">
<text x="291.6" y="385.8" textLength="9.4" lengthAdjust="spacingAndGlyphs">200</text><text x="291.6" y="399.7" textLength="9.4" lengthAdjust="spacingAndGlyphs">150</text><text x="291.6" y="413.7" textLength="9.4" lengthAdjust="spacingAndGlyphs">100</text><text x="291.6" y="427.9" textLength="6.3" lengthAdjust="spacingAndGlyphs">50</text><text x="291.6" y="442">0</text>
</g>
<g class="b" style="font-size:4.8px" fill="#333" text-anchor="middle">
<text x="293.8" y="446.2">0</text><text x="310.2" y="446.2">2</text><text x="326.6" y="446.2">4</text><text x="343" y="446.2">6</text><text x="359.4" y="446.2">8</text><text x="375.8" y="446.2">10</text><text x="392.2" y="446.2">12</text><text x="408.6" y="446.2">14</text><text x="425" y="446.2">16</text><text x="441.4" y="446.2">18</text><text x="457.8" y="446.2">20</text><text x="474.2" y="446.2">22</text>
</g>
<g class="i b" style="font-size:8.5px" fill="#111" text-anchor="middle">
<text transform="translate(269.2,411.5) rotate(-90)" textLength="52.5" lengthAdjust="spacingAndGlyphs">Blood Glucose</text>
<text transform="translate(278.7,411.3) rotate(-90)" textLength="55" lengthAdjust="spacingAndGlyphs">Levels (mg/dL)</text>
</g>
<text x="373" y="456.6" class="i b" style="font-size:8.5px" fill="#111" textLength="38" lengthAdjust="spacingAndGlyphs">Daily Hour</text>

<!-- ============ SECTION D ============ -->
<text x="24.6" y="422.8" class="t" style="font-size:17.3px;stroke-width:0.5px">D</text>
<path d="M51.6,403.6 V407.6 Q51.6,409.8 49.4,409.8 H45.5 A1.85,1.85 0 0 0 45.5,413.5 H55.6 A1.85,1.85 0 0 1 55.6,417.2 H45.5 A1.85,1.85 0 0 0 45.5,420.9 H57 A1.85,1.85 0 0 1 57,424.6 H52.8 Q50.6,424.6 50.6,426.8 V430.6" fill="none" stroke="#000" stroke-width="4.9" stroke-linejoin="round"/>
<path d="M51.6,402.9 V407.6 Q51.6,409.8 49.4,409.8 H45.5 A1.85,1.85 0 0 0 45.5,413.5 H55.6 A1.85,1.85 0 0 1 55.6,417.2 H45.5 A1.85,1.85 0 0 0 45.5,420.9 H57 A1.85,1.85 0 0 1 57,424.6 H52.8 Q50.6,424.6 50.6,426.8 V431.5" fill="none" stroke="#fff" stroke-width="2.5" stroke-linejoin="round"/>
<text x="70.6" y="421.5" class="t" textLength="111.4" lengthAdjust="spacingAndGlyphs">Gut Microbiota</text>
<rect x="186.2" y="415.25" width="4.2" height="2.3" fill="#222"/>
<text x="195.6" y="421.5" class="ds" textLength="21.8" lengthAdjust="spacingAndGlyphs">DS5</text>

<rect x="1.75" y="434" width="236.2" height="202" rx="15" class="box"/>

<rect x="13.75" y="443.2" width="205.25" height="14.3" rx="4.5" class="pp"/>
<text x="18.75" y="454.3" class="m" style="font-size:11.4px;stroke-width:0.35px" fill="#111" stroke="#111" textLength="172" lengthAdjust="spacingAndGlyphs">Phylum Relative Abundances (%)</text>
<g style="font-size:10px" fill="#222" text-anchor="middle">
<text x="36.5" y="475.3">0</text><text x="81.6" y="475.3">25</text><text x="126.7" y="475.3">50</text><text x="171.9" y="475.3">75</text><text x="217" y="475.3">100</text>
</g>
<g stroke="#222" stroke-width="1.2">
<line x1="36.5" y1="478.3" x2="36.5" y2="484"/><line x1="81.6" y1="478.3" x2="81.6" y2="484"/><line x1="126.7" y1="478.3" x2="126.7" y2="484"/><line x1="171.9" y1="478.3" x2="171.9" y2="484"/><line x1="217" y1="478.3" x2="217" y2="484"/>
</g>
<rect x="36.5" y="484" width="180.5" height="30.7" fill="#440154"/>
<rect x="36.5" y="484" width="73.8" height="30.7" fill="#fde725"/>
<rect x="110.3" y="484" width="5.4" height="30.7" fill="#21918c"/>
<rect x="115.7" y="484" width="2.5" height="30.7" fill="#3b528b"/>
<rect x="36.5" y="518.8" width="180.5" height="31.2" fill="#440154"/>
<rect x="36.5" y="518.8" width="40.1" height="31.2" fill="#fde725"/>
<rect x="76.6" y="518.8" width="4.9" height="31.2" fill="#21918c"/>
<rect x="81.5" y="518.8" width="1.3" height="31.2" fill="#3b528b"/>
<g class="i m" style="font-size:11.5px;stroke-width:0.3px" fill="#222" stroke="#222">
<text x="12.5" y="503.7">V1</text>
<text x="12.5" y="538.8">V3</text>
</g>
<rect x="20" y="576.7" width="7.5" height="5.4" rx="2.7" fill="#fde725"/>
<rect x="20" y="600.5" width="7.5" height="5.6" rx="2.8" fill="#21918c"/>
<rect x="118.7" y="568.8" width="7.5" height="5.7" rx="2.8" fill="#5ec962"/>
<rect x="118.7" y="588.8" width="7.5" height="5.7" rx="2.8" fill="#3b528b"/>
<rect x="118.7" y="608.8" width="7.5" height="5.7" rx="2.8" fill="#440154"/>
<g class="i m" style="font-size:9.8px;stroke-width:0.2px" fill="#222" stroke="#222">
<text x="32" y="582.5" textLength="45.5" lengthAdjust="spacingAndGlyphs">Firmicutes</text>
<text x="32" y="607.5" textLength="63" lengthAdjust="spacingAndGlyphs">Proteobacteria</text>
<text x="131.6" y="575.2" textLength="71.4" lengthAdjust="spacingAndGlyphs">Actinobacteriota</text>
<text x="130.2" y="595.4" textLength="79.5" lengthAdjust="spacingAndGlyphs">Verrucomicrobiota</text>
<text x="131" y="615.6" textLength="54.5" lengthAdjust="spacingAndGlyphs">Bacteroidota</text>
</g>

<!-- ============ SECTION E ============ -->
<text x="255.4" y="485" class="t" style="font-size:17.3px;stroke-width:0.5px">E</text>
<!-- spoon & fork -->
<ellipse cx="279.5" cy="473" rx="4.8" ry="5.2" fill="none" stroke="#000" stroke-width="1.3"/>
<path d="M278.1,478 V488.6 A1.45,1.45 0 0 0 281,488.6 V478" fill="none" stroke="#000" stroke-width="1.3"/>
<path d="M287,467.9 V474.4 Q287,478.3 290.5,479 V488.6 A1.35,1.35 0 0 0 293.2,488.6 V479 Q296.7,478.3 296.7,474.4 V467.9" fill="none" stroke="#000" stroke-width="1.3" stroke-linejoin="round"/>
<path d="M290.2,467.9 V475.4 M293.5,467.9 V475.4" fill="none" stroke="#000" stroke-width="1.3"/>
<text x="306" y="484.2" class="t" textLength="29.2" lengthAdjust="spacingAndGlyphs">Diet</text>
<rect x="339.6" y="477.85" width="4.2" height="2.3" fill="#222"/>
<text x="349" y="484" class="ds" textLength="21.2" lengthAdjust="spacingAndGlyphs">DS3</text>

<rect x="245" y="492.2" width="273.5" height="143.8" rx="16" class="box"/>

<rect x="257.5" y="498.6" width="83.7" height="14.4" rx="5" class="po"/>
<text x="262.7" y="509.2" class="m" style="font-size:11.8px;stroke-width:0.45px" fill="#111" stroke="#111" textLength="72.7" lengthAdjust="spacingAndGlyphs">Daily portions</text>
<rect x="259.5" y="517.5" width="122" height="94" fill="none" stroke="#d0d0d0" stroke-width="0.8"/>
<g style="font-size:5.3px" fill="#333" text-anchor="middle">
<text x="256.3" y="523">6</text><text x="256.3" y="537.5">5</text><text x="256.3" y="552">4</text><text x="256.3" y="566">3</text><text x="256.3" y="580.3">2</text><text x="256.3" y="594.7">1</text>
</g>
<g id="lolli">
<g stroke-width="1.45" fill="none">
<line x1="267.3" y1="527" x2="267.3" y2="607.5" stroke="#38478a"/>
<line x1="279.1" y1="550" x2="279.1" y2="607.5" stroke="#38478a" stroke-dasharray="3.4,1.5"/>
<line x1="290.7" y1="552.6" x2="290.7" y2="607.5" stroke="#bcd93e"/>
<line x1="302.5" y1="568.7" x2="302.5" y2="607.5" stroke="#bcd93e" stroke-dasharray="3.4,1.5"/>
<line x1="314.3" y1="554.4" x2="314.3" y2="607.5" stroke="#238c8a"/>
<line x1="326.2" y1="555.8" x2="326.2" y2="607.5" stroke="#238c8a" stroke-dasharray="3.4,1.5"/>
<line x1="337.8" y1="554.4" x2="337.8" y2="607.5" stroke="#3ab47c"/>
<line x1="349.5" y1="557" x2="349.5" y2="607.5" stroke="#3ab47c" stroke-dasharray="3.4,1.5"/>
<line x1="361.1" y1="571.7" x2="361.1" y2="607.5" stroke="#3b1a5c"/>
<line x1="373.1" y1="584.9" x2="373.1" y2="607.5" stroke="#3b1a5c" stroke-dasharray="3.4,1.5"/>
</g>
<circle cx="267.3" cy="527" r="1.7" fill="#2e3a7c"/>
<circle cx="279.1" cy="550" r="1.7" fill="#2e3a7c"/>
<circle cx="290.7" cy="552.6" r="1.7" fill="#b6d535"/>
<circle cx="302.5" cy="568.7" r="1.7" fill="#b6d535"/>
<circle cx="314.3" cy="554.4" r="1.7" fill="#1f8886"/>
<circle cx="326.2" cy="555.8" r="1.7" fill="#1f8886"/>
<circle cx="337.8" cy="554.4" r="1.7" fill="#35b077"/>
<circle cx="349.5" cy="557" r="1.7" fill="#35b077"/>
<circle cx="361.1" cy="571.7" r="1.7" fill="#2e1048"/>
<circle cx="373.1" cy="584.9" r="1.7" fill="#2e1048"/>
<!-- wheat -->
<g transform="translate(279.4,536.4) rotate(-42)" fill="#fff" stroke="#222" stroke-width="0.85">
<line x1="-9.2" y1="0.3" x2="-4.8" y2="0.1" stroke-width="0.9"/>
<ellipse cx="-3.3" cy="-1.35" rx="1.55" ry="1.25"/><ellipse cx="-3.3" cy="1.35" rx="1.55" ry="1.25"/>
<ellipse cx="-0.4" cy="-1.35" rx="1.55" ry="1.25"/><ellipse cx="-0.4" cy="1.35" rx="1.55" ry="1.25"/>
<ellipse cx="2.5" cy="-1.35" rx="1.55" ry="1.25"/><ellipse cx="2.5" cy="1.35" rx="1.55" ry="1.25"/>
<ellipse cx="5.3" cy="-1.2" rx="1.5" ry="1.2"/><ellipse cx="5.3" cy="1.2" rx="1.5" ry="1.2"/>
</g>
<!-- veg -->
<path d="M295,557.5 Q293.6,553.8 297,552.2 Q300.5,550.6 303.5,552.5 Q305.2,554.5 304.6,557 Q307.5,559 307.8,561.5 Q306,563.8 302,563 Q297.5,562 295,557.5 Z" fill="#fff" stroke="#222" stroke-width="0.8" stroke-linejoin="round"/>
<path d="M299.5,553.8 Q301.8,553.8 301.5,556.3 Q301,558.2 299,557.5 M296.2,558.5 Q299.5,561.2 304,560.6" fill="none" stroke="#222" stroke-width="0.7"/>
<!-- grapes -->
<g fill="#fff" stroke="#222" stroke-width="0.75">
<circle cx="318.6" cy="542.5" r="1.75"/><circle cx="321.8" cy="541" r="1.75"/><circle cx="325" cy="539.7" r="1.75"/>
<circle cx="318.2" cy="546" r="1.75"/><circle cx="321.4" cy="544.5" r="1.75"/><circle cx="324.6" cy="543" r="1.75"/><circle cx="327.6" cy="541.8" r="1.75"/>
<circle cx="319.2" cy="549.4" r="1.75"/><circle cx="322.4" cy="547.9" r="1.75"/><circle cx="325.6" cy="546.3" r="1.75"/>
<circle cx="320.5" cy="551.3" r="1.6"/>
</g>
<path d="M327.8,540.2 Q330.5,539.5 331.8,537 M329.2,540 Q331.8,542 332.3,543.6 Q329.8,543.6 329.2,540 Z" fill="#444" stroke="#222" stroke-width="0.6"/>
<!-- milk -->
<rect x="342.8" y="539.3" width="7.2" height="2.4" rx="0.4" fill="#fff" stroke="#222" stroke-width="0.8"/>
<path d="M342.2,541.7 H351.4 V552.7 H341.6 V543.4 Q341.6,542.3 342.2,541.7 Z" fill="#fff" stroke="#222" stroke-width="0.9" stroke-linejoin="round"/>
<rect x="342.7" y="544.8" width="6.2" height="6.3" fill="none" stroke="#222" stroke-width="0.7"/>
<line x1="349.6" y1="542.2" x2="349.6" y2="552.4" stroke="#222" stroke-width="0.7"/>
<!-- meat -->
<path d="M364.5,573.5 Q364,569.5 368.5,568.7 Q374,568 377.2,570.3 Q379,572.8 377.6,576.3 Q376.2,579.6 372.5,580.8 Q368.5,581.6 367.5,578.8 Q366.5,576.3 364.5,573.5 Z" fill="#fff" stroke="#222" stroke-width="0.9"/>
<path d="M366.2,573 Q366.5,570.5 370,570.2 Q374.3,569.8 376,572 Q377,574.6 375,576.8 Q372.5,578.8 370,577.6 Q369,575.5 366.2,573 Z" fill="none" stroke="#222" stroke-width="0.7"/>
<circle cx="372.8" cy="574" r="1.1" fill="none" stroke="#222" stroke-width="0.6"/>
</g>
<g class="m" style="font-size:5.3px;stroke-width:0.12px" fill="#222" stroke="#222" text-anchor="middle">
<text x="273.3" y="615.5">Grains</text><text x="297" y="615.5">Vegetables</text><text x="320" y="615.5">Fruits</text><text x="343.8" y="615.5">Dairy</text><text x="367" y="615.5">Meat</text>
</g>
<line x1="277" y1="628.7" x2="300" y2="628.7" stroke="#111" stroke-width="1.5"/>
<line x1="328.7" y1="628.7" x2="351" y2="628.7" stroke="#111" stroke-width="1.5" stroke-dasharray="3,1.6"/>
<g class="i m" style="font-size:10.5px;stroke-width:0.2px" fill="#222" stroke="#222">
<text x="305.3" y="632">V1</text><text x="355.7" y="632">V2</text>
</g>
<!-- nutrient -->
<rect x="389.4" y="499.4" width="103.3" height="13.6" rx="5" class="po"/>
<text x="392" y="510.2" class="m" style="font-size:11.8px;stroke-width:0.45px" fill="#111" stroke="#111" textLength="89.9" lengthAdjust="spacingAndGlyphs">% Nutrient intake</text>
<g class="m" style="font-size:5.6px;stroke-width:0.15px" fill="#333" stroke="#333" text-anchor="middle">
<text x="404.6" y="519.6">0</text><text x="430.3" y="519.6">25</text><text x="456" y="519.6">50</text><text x="481.8" y="519.6">75</text><text x="507.5" y="519.6">100</text>
</g>
<g stroke="#555" stroke-width="0.5"><line x1="404.5" y1="520.6" x2="404.5" y2="522.9"/><line x1="430.2" y1="520.6" x2="430.2" y2="522.9"/><line x1="456.0" y1="520.6" x2="456.0" y2="522.9"/><line x1="481.8" y1="520.6" x2="481.8" y2="522.9"/><line x1="507.5" y1="520.6" x2="507.5" y2="522.9"/></g>
<rect x="404.5" y="522.9" width="103" height="21.5" fill="#6a2b85"/>
<rect x="404.5" y="522.9" width="15.1" height="21.5" fill="#c6e02b"/>
<rect x="419.6" y="522.9" width="35.3" height="21.5" fill="#3dbb9d"/>
<rect x="454.9" y="522.9" width="4.1" height="21.5" fill="#4a6ca6"/>
<rect x="404.5" y="547.1" width="103" height="21.6" fill="#6a2b85"/>
<rect x="404.5" y="547.1" width="14.5" height="21.6" fill="#c6e02b"/>
<rect x="419" y="547.1" width="41" height="21.6" fill="#3dbb9d"/>
<g class="i m" style="font-size:8.4px;stroke-width:0.3px" fill="#222" stroke="#222">
<text x="390" y="536.8">V1</text><text x="390" y="560.7">V2</text>
</g>
<rect x="413.4" y="578.9" width="8.5" height="5.8" rx="2.6" fill="#6a2b85"/>
<rect x="413.4" y="592" width="8.5" height="5.6" rx="2.6" fill="#3dbb9d"/>
<rect x="413.4" y="604.6" width="8.5" height="5.6" rx="2.6" fill="#c6e02b"/>
<rect x="413.4" y="616.2" width="8.5" height="5.6" rx="2.6" fill="#4a6ca6"/>
<g class="i m" style="font-size:10px;stroke-width:0.22px" fill="#222" stroke="#222">
<text x="426.6" y="584.2" textLength="62.3" lengthAdjust="spacingAndGlyphs">Carbohydrates</text>
<text x="426.6" y="597.3">Lipids</text>
<text x="426.6" y="610">Proteins</text>
<text x="426.6" y="622.3">Others</text>
</g>
<!-- ============ LEGEND ============ -->
<rect x="96" y="644.5" width="299.4" height="43.8" rx="3" fill="none" stroke="#b8b8b8" stroke-width="1"/>
<rect x="103.6" y="650.5" width="26.1" height="31" fill="#fbe3cc" stroke="#ef8a33" stroke-width="2.3"/>
<use href="#clip" x="108.4" y="656.3" style="--bg:#fbe3cc"/>
<rect x="186.9" y="650.1" width="26.8" height="31.3" fill="#e9c4d6" stroke="#992a62" stroke-width="2.3"/>
<!-- microscope -->
<g fill="none" stroke="#111" stroke-linecap="round" stroke-linejoin="round">
<rect x="191.6" y="672.3" width="17.6" height="2.3" rx="1.1" stroke-width="1"/>
<path d="M195.6,661.6 Q192.3,665.2 193.6,669 Q194.7,671.6 197.5,672" stroke-width="2.8"/>
<path d="M195.6,661.6 Q192.3,665.2 193.6,669 Q194.7,671.6 197.5,672" stroke="#e9c4d6" stroke-width="0.9"/>
<path d="M197,670.6 Q200,671.8 202.6,670" stroke-width="0.9"/>
<g transform="translate(199,662) rotate(38)">
<rect x="-5" y="-1.7" width="10" height="3.4" rx="0.5" stroke-width="1" fill="#e9c4d6"/>
<line x1="-2.6" y1="-1.7" x2="-2.6" y2="1.7" stroke-width="0.8"/>
<line x1="2.6" y1="-1.7" x2="2.6" y2="1.7" stroke-width="0.8"/>
</g>
<line x1="200.6" y1="669.1" x2="208.6" y2="669.1" stroke-width="1.3"/>
<path d="M203.2,669.6 V671.2 M205.6,669.6 V671" stroke-width="0.8"/>
</g>
<rect x="315.3" y="650" width="26.6" height="31.5" fill="#fdf0cb" stroke="#f9dd8a" stroke-width="2"/>
<use href="#watch" x="322" y="657"/>
<g class="m" style="font-size:10.2px;stroke-width:0.4px" fill="#111" stroke="#111">
<text x="135.5" y="663.4" textLength="40.1" lengthAdjust="spacingAndGlyphs">Acquired</text>
<text x="135.5" y="676" textLength="41" lengthAdjust="spacingAndGlyphs">Manually</text>
<text x="218.8" y="663.9" textLength="61.7" lengthAdjust="spacingAndGlyphs">Acquired by a</text>
<text x="218.8" y="675.4" textLength="89.2" lengthAdjust="spacingAndGlyphs">Health Professional</text>
<text x="347.3" y="663.9" textLength="40" lengthAdjust="spacingAndGlyphs">Acquired</text>
<text x="347.3" y="676.1" textLength="35.8" lengthAdjust="spacingAndGlyphs">Digitally</text>
</g>

</svg>
</body>
</html>
